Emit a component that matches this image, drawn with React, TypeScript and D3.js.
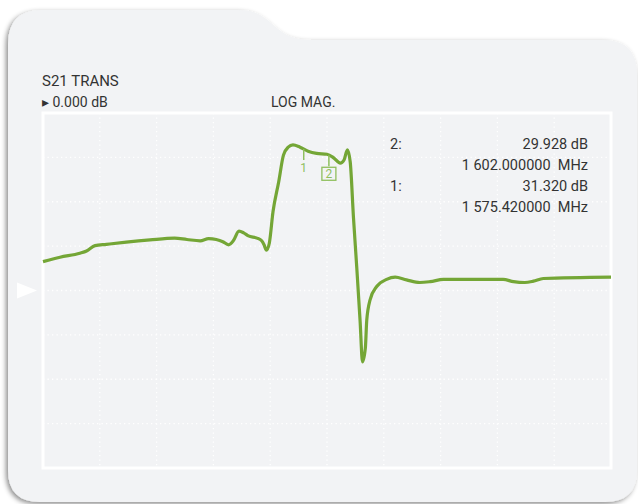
import React from 'react';
import * as d3 from 'd3';

// trace: S21 transmission, log magnitude
const freqMHz = [
  1300, 1318, 1339, 1346, 1355, 1367, 1388, 1413, 1439, 1452, 1466, 1475, 1483, 1490, 1496,
  1501, 1507, 1512, 1517, 1526, 1531, 1533.5, 1536, 1539, 1543, 1549, 1554, 1559, 1564, 1571.5,
  1580, 1589, 1600, 1607, 1614, 1618, 1621.5, 1624.5, 1628, 1631.5, 1635, 1637.5, 1640.5, 1642,
  1645.5, 1652.5, 1663, 1672, 1684, 1698, 1709, 1723, 1786, 1797, 1809, 1818, 1828.5, 1900,
];
const s21dB = [
  6.5, 7.5, 8.4, 8.9, 10.1, 10.4, 10.9, 11.4, 11.8, 11.5, 11.2, 11.7, 11.5, 11.0, 10.3,
  11.2, 13.4, 13.0, 12.3, 11.8, 11.2, 10.3, 9.1, 10.6, 17.8, 24.5, 30.5, 32.3, 32.8, 32.3,
  31.4, 30.9, 30.7, 29.9, 28.7, 29.4, 31.7, 29.0, 16.3, 5.0, -7.0, -16.1, -13.0, -6.7,
  -2.1, 0.9, 2.5, 3.0, 2.4, 1.8, 2.0, 2.5, 2.5, 2.0, 1.8, 2.1, 2.7, 3.0,
];

const markerIds = ['2', '1'];
const markerFreq = [1602.0, 1575.42];
const markerVal = [29.928, 31.32];
const markerFreqText = ['1 602.000000  MHz', '1 575.420000  MHz'];

const headerTitle = 'S21 TRANS';
const refText = '\u25B8 0.000 dB';
const formatText = 'LOG MAG.';

const W = 638;
const H = 504;
const frame = { left: 43, right: 611, top: 113, bottom: 468 };
const green = '#74a636';
const markerGreen = '#8fbf5e';
const font = 'Roboto, "DejaVu Sans", sans-serif';

export default function App() {
  const x = d3.scaleLinear().domain([1300, 1900]).range([frame.left, frame.right]);
  const y = d3.scaleLinear().domain([-40, 40]).range([frame.bottom, frame.top]);

  const pts: [number, number][] = freqMHz.map((f, i) => [f, s21dB[i]]);
  const line = d3
    .line<[number, number]>()
    .x(d => x(d[0]))
    .y(d => y(d[1]))
    .curve(d3.curveMonotoneX);

  const interp = (f: number) => {
    const i = d3.bisectLeft(freqMHz, f);
    const t = (f - freqMHz[i - 1]) / (freqMHz[i] - freqMHz[i - 1]);
    return s21dB[i - 1] + t * (s21dB[i] - s21dB[i - 1]);
  };

  const xTicks = d3.range(1, 10).map(k => 1300 + k * 60);
  const yTicks = d3.range(-30, 40, 10);

  const panel =
    'M8,44 Q8,10 42,10 L238,10 C276,10 270,40 312,40 L603,40 Q637,40 637,74 ' +
    'L637,470 Q637,502 605,502 L40,502 Q8,502 8,470 Z';

  return (
    <svg width={W} height={H} style={{ position: 'absolute', left: 0, top: 0, display: 'block' }}>
      <defs>
        <filter id="sh" x="-5%" y="-5%" width="110%" height="110%">
          <feDropShadow dx={-2} dy={2} stdDeviation={2.5} floodColor="#000" floodOpacity={0.45} />
        </filter>
      </defs>
      <rect width={W} height={H} fill="#ffffff" />
      <path d={panel} fill="#f2f3f5" filter="url(#sh)" />

      {/* grid */}
      <g stroke="#ffffff" strokeWidth={1.3} strokeDasharray="1.3,3.2">
        {xTicks.map(t => (
          <line key={'v' + t} x1={x(t)} x2={x(t)} y1={frame.top} y2={frame.bottom} />
        ))}
        {yTicks.map(t => (
          <line key={'h' + t} x1={frame.left} x2={frame.right} y1={y(t)} y2={y(t)} />
        ))}
      </g>
      <rect
        x={frame.left}
        y={frame.top}
        width={frame.right - frame.left}
        height={frame.bottom - frame.top}
        fill="none"
        stroke="#ffffff"
        strokeWidth={3}
      />

      {/* reference level arrow */}
      <path
        d={`M17,${y(0) - 8} L37,${y(0)} L17,${y(0) + 8} Z`}
        fill="#ffffff"
      />

      {/* header */}
      <g fontFamily={font} fill="#333333">
        <text x={42} y={86} fontSize={15}>{headerTitle}</text>
        <text x={42} y={107} fontSize={14}>{refText}</text>
        <text x={271} y={107} fontSize={14}>{formatText}</text>
      </g>

      {/* trace */}
      <path d={line(pts) || ''} fill="none" stroke={green} strokeWidth={3.2} strokeLinejoin="round" />

      {/* markers */}
      {markerIds.map((id, i) => {
        const mx = x(markerFreq[i]);
        const my = y(interp(markerFreq[i]));
        const end = my + 11;
        return (
          <g key={'m' + id}>
            <line x1={mx} x2={mx} y1={my} y2={end} stroke={markerGreen} strokeWidth={1.5} />
            {id === '2' && (
              <rect x={mx - 7} y={end + 1} width={14} height={13} fill="none" stroke={markerGreen} strokeWidth={1.3} />
            )}
            <text
              x={mx}
              y={end + 12}
              textAnchor="middle"
              fontFamily={font}
              fontSize={12}
              fill={markerGreen}
            >
              {id}
            </text>
          </g>
        );
      })}

      {/* marker readout */}
      <g fontFamily={font} fontSize={14.5} fill="#333333">
        {markerIds.map((id, i) => (
          <g key={'r' + id}>
            <text x={390} y={149 + i * 42}>{id + ':'}</text>
            <text x={588} y={149 + i * 42} textAnchor="end">{markerVal[i].toFixed(3) + ' dB'}</text>
            <text x={588} y={170 + i * 42} textAnchor="end" xmlSpace="preserve" style={{ whiteSpace: 'pre' }}>
              {markerFreqText[i]}
            </text>
          </g>
        ))}
      </g>
    </svg>
  );
}
